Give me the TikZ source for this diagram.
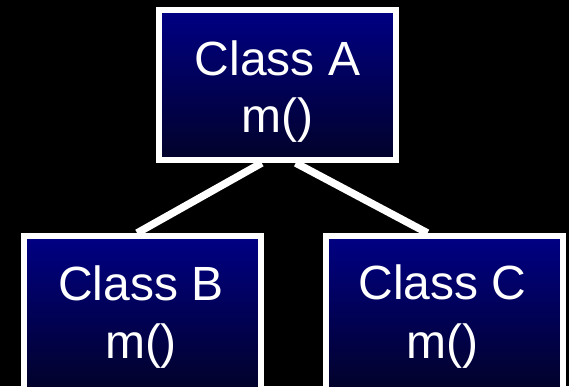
\documentclass[tikz,border=0pt]{standalone}
\usepackage{fontspec}
\setmainfont{Liberation Sans}
\usetikzlibrary{calc}
\definecolor{navytop}{RGB}{0,0,132}
\definecolor{navybot}{RGB}{2,2,42}
\tikzset{
  classbox/.style={draw=white, line width=6pt, top color=navytop, bottom color=navybot,
    rectangle, inner sep=0pt, minimum width=237pt},
  lbl/.style={text=white, inner sep=0pt, anchor=base, font=\fontsize{48}{57}\selectfont},
  conn/.style={draw=white, line width=7.5pt}
}
\begin{document}
\begin{tikzpicture}[x=1pt,y=-1pt]
\fill[black] (0,0) rectangle (569,386);
\useasboundingbox (0,0) rectangle (569,386);
\clip (0,0) rectangle (569,386);
\node[classbox, minimum height=150pt] (A) at (277.5,85) {};
\node[classbox, minimum height=154pt] (B) at (142,313) {};
\node[classbox, minimum height=154pt] (C) at (444.5,313) {};
\draw[conn] ($(A.south west)!0.435!(A.south east)$) -- ($(B.north west)!0.48!(B.north east)$);
\draw[conn] ($(A.south west)!0.575!(A.south east)$) -- ($(C.north west)!0.43!(C.north east)$);
\node[lbl] (A1) at (277.5,75) {Class A};
\node[lbl] (A2) at (277.5,132) {m()};
\node[lbl] (B1) at (141,300) {Class B};
\node[lbl] (B2) at (141,358) {m()};
\node[lbl] (C1) at (442.5,299) {Class C};
\node[lbl] (C2) at (442.5,358) {m()};
\end{tikzpicture}
\end{document}
